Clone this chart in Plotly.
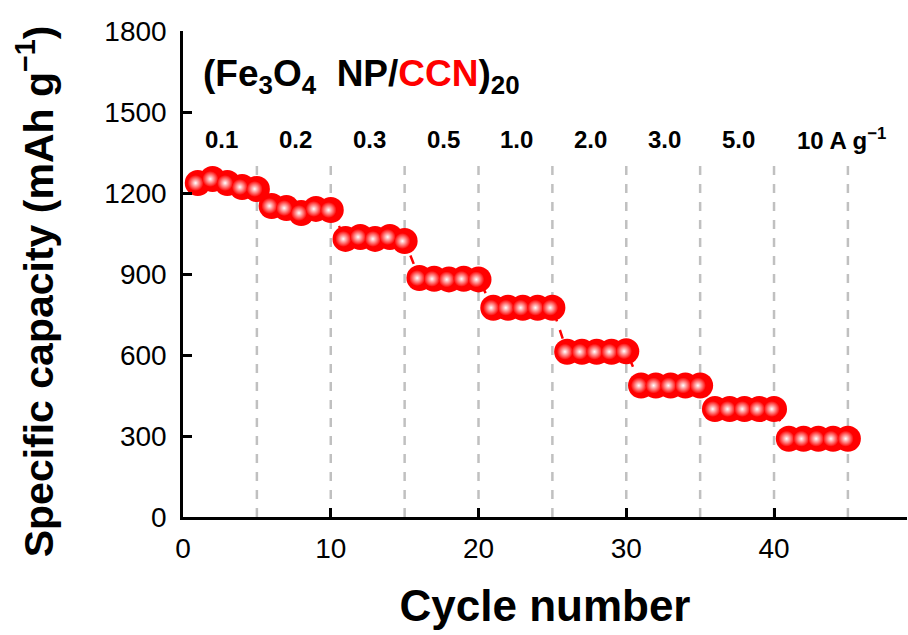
import plotly.graph_objects as go

cycles = list(range(1, 46))
capacity = [1237, 1252, 1237, 1222, 1215,
            1152, 1144, 1126, 1141, 1137,
            1030, 1037, 1030, 1037, 1022,
            885, 882, 880, 882, 880,
            775, 775, 775, 775, 775,
            612, 612, 612, 612, 614,
            487, 487, 487, 487, 487,
            400, 400, 400, 400, 400,
            290, 290, 290, 290, 290]
rate_labels = ["0.1", "0.2", "0.3", "0.5", "1.0", "2.0", "3.0", "5.0"]
rate_x = [2.6, 7.6, 12.6, 17.6, 22.6, 27.6, 32.6, 37.6]
last_rate_label = "10 A g<sup>\u22121</sup>"
last_rate_x = 41.4
boundaries = [5, 10, 15, 20, 25, 30, 35, 40, 45]
y_ticks = [0, 300, 600, 900, 1200, 1500, 1800]
x_ticks = [0, 10, 20, 30, 40]

FONT = "Arial, Liberation Sans, sans-serif"
RED = "#ff0000"

fig = go.Figure()

fig.add_trace(go.Scatter(
    x=cycles, y=capacity, mode="lines+markers",
    line=dict(color=RED, width=2.5, dash="dash"),
    marker=dict(size=26, color=RED, line=dict(width=0)),
    hoverinfo="skip", showlegend=False,
))
fig.add_trace(go.Scatter(
    x=[c - 0.15 for c in cycles], y=capacity, mode="markers",
    marker=dict(size=16, color=RED, line=dict(width=0),
                gradient=dict(type="radial", color="white")),
    hoverinfo="skip", showlegend=False,
))

shapes = []
for b in boundaries:
    shapes.append(dict(type="line", xref="x", yref="y", x0=b, x1=b, y0=0, y1=1310,
                       line=dict(color="#c0c0c0", width=2.5, dash="dash"), layer="below"))

annotations = []
for lab, xv in zip(rate_labels, rate_x):
    annotations.append(dict(x=xv, y=1400, xref="x", yref="y", text="<b>%s</b>" % lab,
                            showarrow=False, xanchor="center", yanchor="middle",
                            font=dict(family=FONT, size=24, color="black")))
annotations.append(dict(x=last_rate_x, y=1400, xref="x", yref="y", text="<b>%s</b>" % last_rate_label,
                        showarrow=False, xanchor="left", yanchor="middle",
                        font=dict(family=FONT, size=24, color="black")))
annotations.append(dict(x=1.2, y=1635, xref="x", yref="y",
                        text="<b>(Fe<sub>3</sub>O<sub>4</sub>&nbsp; NP/<span style='color:#ff0000'>CCN</span>)<sub>20</sub></b>",
                        showarrow=False, xanchor="left", yanchor="middle",
                        font=dict(family=FONT, size=37, color="black")))
annotations.append(dict(x=-0.204, y=0.465, xref="paper", yref="paper",
                        text="<b>Specific capacity (mAh g<sup>\u22121</sup>)</b>",
                        textangle=-90, showarrow=False, xanchor="center", yanchor="middle",
                        font=dict(family=FONT, size=41, color="black")))

fig.update_layout(
    width=908, height=635,
    margin=dict(l=183, r=1, t=31, b=118),
    paper_bgcolor="white", plot_bgcolor="white",
    shapes=shapes, annotations=annotations,
    xaxis=dict(range=[0, 49], tickvals=x_ticks, ticks="inside", ticklen=9, tickwidth=2.5,
               tickcolor="black", showline=True, linecolor="black", linewidth=2.5,
               showgrid=False, zeroline=False,
               tickfont=dict(family=FONT, size=28, color="black"), ticklabelstandoff=5,
               title=dict(text="<b>Cycle number</b>", font=dict(family=FONT, size=44, color="black"),
                          standoff=27)),
    yaxis=dict(range=[0, 1800], tickvals=y_ticks, ticks="inside", ticklen=9, tickwidth=2.5,
               tickcolor="black", showline=True, linecolor="black", linewidth=2.5,
               showgrid=False, zeroline=False,
               tickfont=dict(family=FONT, size=28, color="black"), ticklabelstandoff=8),
)

fig.write_html("out.html")
